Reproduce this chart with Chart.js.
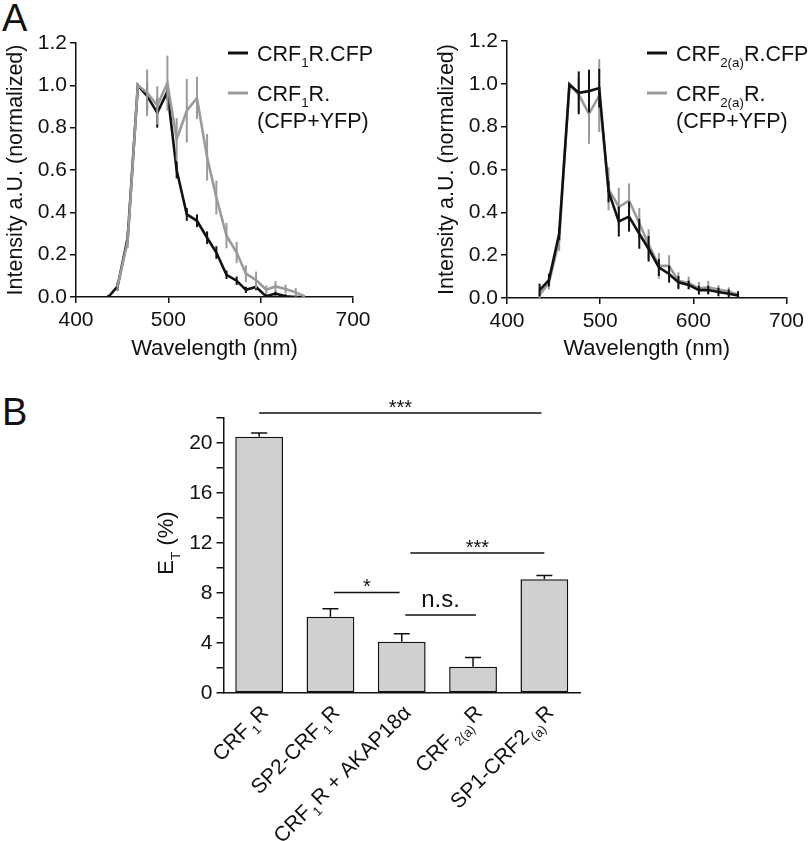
<!DOCTYPE html>
<html>
<head>
<meta charset="utf-8">
<script src="https://cdn.jsdelivr.net/npm/chart.js@4.4.0/dist/chart.umd.min.js"></script>
<style>
  body { margin: 0; background: #fff; }
  #page { position: relative; width: 809px; height: 841px; overflow: hidden; background: #fff;
          font-family: 'Liberation Sans', Arial, sans-serif; color: #111; }
  canvas { position: absolute; }
  .panel { position: absolute; font-size: 38px; line-height: 38px; }
</style>
</head>
<body>
<div id="page">
  <div class="panel" style="left:2px;top:-1px">A</div>
  <div class="panel" style="left:2px;top:393px">B</div>
  <canvas id="specL" width="400" height="365" style="left:0;top:0"></canvas>
  <canvas id="specR" width="378" height="365" style="left:431px;top:0"></canvas>
  <canvas id="fret" width="460" height="461" style="left:140px;top:380px"></canvas>
</div>
<script>
// emission channels (nm)
const wavelengths = [435, 445, 456, 467, 477, 488, 499, 509, 520, 531, 542, 552, 563, 574, 584, 595, 606, 616, 627, 638, 648];

// CRF1R spectra (normalized) and error
const crf1Cfp     = [0.0, 0.05, 0.28, 1.0, 0.95, 0.87, 0.97, 0.60, 0.39, 0.36, 0.28, 0.21, 0.105, 0.077, 0.034, 0.047, 0.003, 0.016, 0.003, 0.0, 0.0];
const crf1CfpErr  = [0.01, 0.02, 0.03, 0.0, 0.07, 0.07, 0.04, 0.04, 0.03, 0.03, 0.03, 0.03, 0.02, 0.02, 0.015, 0.015, 0.01, 0.01, 0.01, 0.01, 0.0];
const crf1Both    = [null, 0.05, 0.265, 1.0, 0.965, 0.905, 1.01, 0.745, 0.88, 0.94, 0.66, 0.47, 0.29, 0.21, 0.11, 0.08, 0.034, 0.05, 0.038, 0.022, 0.003];
const crf1BothErr = [0, 0.02, 0.035, 0.0, 0.11, 0.09, 0.13, 0.1, 0.15, 0.1, 0.11, 0.08, 0.06, 0.05, 0.04, 0.04, 0.02, 0.025, 0.02, 0.02, 0.0];

// CRF2(a)R spectra (normalized) and error
const crf2Cfp     = [0.037, 0.084, 0.30, 0.996, 0.958, 0.966, 0.98, 0.497, 0.357, 0.38, 0.30, 0.23, 0.143, 0.112, 0.073, 0.061, 0.037, 0.037, 0.028, 0.02, 0.012];
const crf2CfpErr  = [0.03, 0.03, 0.03, 0.0, 0.1, 0.1, 0.09, 0.05, 0.07, 0.07, 0.07, 0.06, 0.04, 0.04, 0.03, 0.02, 0.02, 0.02, 0.02, 0.02, 0.02];
const crf2Both    = [0.015, 0.07, 0.27, 1.0, 0.95, 0.86, 0.945, 0.51, 0.425, 0.455, 0.35, 0.25, 0.15, 0.15, 0.08, 0.07, 0.045, 0.05, 0.04, 0.03, 0.015];
const crf2BothErr = [0.02, 0.03, 0.05, 0.0, 0.08, 0.14, 0.17, 0.1, 0.09, 0.08, 0.07, 0.07, 0.06, 0.05, 0.04, 0.03, 0.03, 0.03, 0.02, 0.02, 0.01];

// panel B: FRET efficiency
const constructs = ['CRF_{1}R', 'SP2-CRF_{1}R', 'CRF_{1}R + AKAP18\u03b1', 'CRF_{2(a)}R', 'SP1-CRF2_{(a)}R'];
const etMean = [20.5, 6.1, 4.1, 2.1, 9.1];
const etSem  = [0.3, 0.65, 0.65, 0.75, 0.3];

// significance brackets (category index range, height in %)
const sigFrom  = [0.0, 1.05, 2.05, 2.12];
const sigTo    = [3.96, 1.97, 3.04, 4.0];
const sigLevel = [22.4, 8.05, 6.25, 11.2];
const sigLabel = ['***', '*', 'n.s.', '***'];

const FONT = "'Liberation Sans', Arial, Helvetica, sans-serif";
const INK = '#111';
const GREY = '#9a9a9a';
Chart.defaults.font.family = FONT;
Chart.defaults.color = INK;

// 'CRF_{1}R' -> text pieces, subscripts marked
function parseRich(str) {
  const parts = [];
  const re = /_\{([^}]*)\}/g;
  let last = 0, m;
  while ((m = re.exec(str))) {
    if (m.index > last) parts.push({ t: str.slice(last, m.index), sub: false });
    parts.push({ t: m[1], sub: true });
    last = re.lastIndex;
  }
  if (last < str.length) parts.push({ t: str.slice(last), sub: false });
  return parts;
}

// y = middle of capital letters
function richText(ctx, str, x, y, size, align, subGap) {
  const parts = parseRich(str);
  const subSize = size * 0.62;
  const gap = subGap || 0;
  let w = 0;
  parts.forEach(p => {
    ctx.font = (p.sub ? subSize : size) + 'px ' + FONT;
    p.w = ctx.measureText(p.t).width + (p.sub ? 2 * gap : 0);
    w += p.w;
  });
  let cx = align === 'right' ? x - w : align === 'center' ? x - w / 2 : x;
  const base = y + size * 0.36;
  ctx.textAlign = 'left';
  ctx.textBaseline = 'alphabetic';
  parts.forEach(p => {
    ctx.font = (p.sub ? subSize : size) + 'px ' + FONT;
    ctx.fillText(p.t, cx + (p.sub ? gap : 0), p.sub ? base + size * 0.3 : base);
    cx += p.w;
  });
}

const errBars = {
  id: 'errBars',
  afterDatasetDraw(chart, args) {
    const ds = chart.data.datasets[args.index];
    if (!ds.errors) return;
    const { ctx, scales: { x, y } } = chart;
    ctx.save();
    ctx.strokeStyle = ds.borderColor;
    ctx.lineWidth = 2;
    ds.data.forEach((pt, i) => {
      const e = ds.errors[i];
      if (pt.y == null || !e) return;
      const px = x.getPixelForValue(pt.x);
      ctx.beginPath();
      ctx.moveTo(px, y.getPixelForValue(Math.max(pt.y - e, 0)));
      ctx.lineTo(px, y.getPixelForValue(pt.y + e));
      ctx.stroke();
    });
    ctx.restore();
  }
};

const specLegend = {
  id: 'specLegend',
  afterDraw(chart, args, opts) {
    const ctx = chart.ctx;
    ctx.save();
    ctx.fillStyle = INK;
    opts.rows.forEach(r => {
      if (r.color) {
        ctx.strokeStyle = r.color;
        ctx.lineWidth = 3;
        ctx.beginPath();
        ctx.moveTo(opts.x, r.y);
        ctx.lineTo(opts.x + 20, r.y);
        ctx.stroke();
      }
      richText(ctx, r.text, opts.x + 29, r.y, 21.5, 'left');
    });
    ctx.restore();
  }
};

function specChart(id, series, pad, xHeight, legendX, legendRows) {
  const axis = {
    grid: { drawOnChartArea: false, tickLength: 6, color: INK, lineWidth: 1.5 },
    border: { color: INK, width: 1.5 }
  };
  return new Chart(document.getElementById(id), {
    type: 'line',
    data: {
      datasets: series.map(s => ({
        label: s.label,
        data: wavelengths.map((w, i) => ({ x: w, y: s.values[i] })),
        errors: s.err,
        borderColor: s.color,
        borderWidth: 2.6,
        pointRadius: 0,
        tension: 0,
        order: s.order
      }))
    },
    options: {
      responsive: false,
      animation: false,
      layout: { padding: pad },
      plugins: {
        legend: { display: false },
        tooltip: { enabled: false },
        specLegend: { x: legendX, rows: legendRows }
      },
      scales: {
        x: {
          type: 'linear', min: 400, max: 700,
          ticks: { stepSize: 100, font: { size: 21 }, padding: 5 },
          title: { display: true, text: 'Wavelength (nm)', font: { size: 22 }, padding: { top: 4, bottom: 3 } },
          afterFit: s => { s.height = xHeight; },
          ...axis
        },
        y: {
          min: 0, max: 1.2,
          ticks: { stepSize: 0.2, font: { size: 21 }, padding: 3, callback: v => v.toFixed(1) },
          title: { display: true, text: 'Intensity a.U. (normalized)', font: { size: 21.5 }, padding: { top: 3, bottom: 4 } },
          afterFit: s => { s.width = 76; },
          ...axis
        }
      }
    },
    plugins: [errBars, specLegend]
  });
}

specChart('specL', [
  { label: 'CRF1R.CFP', values: crf1Cfp, err: crf1CfpErr, color: INK, order: 1 },
  { label: 'CRF1R.(CFP+YFP)', values: crf1Both, err: crf1BothErr, color: GREY, order: 0 }
], { top: 43, right: 47, left: 0, bottom: 0 }, 68, 228, [
  { y: 53, text: 'CRF_{1}R.CFP', color: INK },
  { y: 93, text: 'CRF_{1}R.', color: GREY },
  { y: 120, text: '(CFP+YFP)' }
]);

specChart('specR', [
  { label: 'CRF2(a)R.CFP', values: crf2Cfp, err: crf2CfpErr, color: INK, order: 0 },
  { label: 'CRF2(a)R.(CFP+YFP)', values: crf2Both, err: crf2BothErr, color: GREY, order: 1 }
], { top: 41, right: 21, left: 0, bottom: 0 }, 67, 216, [
  { y: 53, text: 'CRF_{2(a)}R.CFP', color: INK },
  { y: 93, text: 'CRF_{2(a)}R.', color: GREY },
  { y: 120, text: '(CFP+YFP)' }
]);

const barDecor = {
  id: 'barDecor',
  afterDatasetsDraw(chart) {
    const { ctx, scales: { x, y } } = chart;
    ctx.save();
    ctx.strokeStyle = INK;
    ctx.fillStyle = INK;
    ctx.lineWidth = 1.5;
    // SEM (upper only)
    etMean.forEach((v, i) => {
      const px = x.getPixelForValue(i);
      const top = y.getPixelForValue(v + etSem[i]);
      ctx.beginPath();
      ctx.moveTo(px, y.getPixelForValue(v));
      ctx.lineTo(px, top);
      ctx.moveTo(px - 8, top);
      ctx.lineTo(px + 8, top);
      ctx.stroke();
    });
    // significance
    sigLevel.forEach((lv, i) => {
      const x0 = x.getPixelForValue(sigFrom[i]);
      const x1 = x.getPixelForValue(sigTo[i]);
      const py = y.getPixelForValue(lv);
      ctx.beginPath();
      ctx.moveTo(x0, py);
      ctx.lineTo(x1, py);
      ctx.stroke();
      ctx.textAlign = 'center';
      ctx.textBaseline = 'alphabetic';
      if (sigLabel[i] === 'n.s.') {
        ctx.font = '24px ' + FONT;
        ctx.fillText(sigLabel[i], (x0 + x1) / 2, py - 8);
      } else {
        ctx.font = '20px ' + FONT;
        ctx.fillText(sigLabel[i], (x0 + x1) / 2, py + 1);
      }
    });
    // category labels, rotated
    constructs.forEach((c, i) => {
      ctx.save();
      ctx.translate(x.getPixelForValue(i) + 5, y.bottom + 15.5);
      ctx.rotate(-Math.PI / 4);
      richText(ctx, c, 0, 0, 21, 'right', 1.5);
      ctx.restore();
    });
    // y title
    ctx.save();
    ctx.translate(25, 163);
    ctx.rotate(-Math.PI / 2);
    richText(ctx, 'E_{T} (%)', 0, 0, 22, 'center');
    ctx.restore();
    ctx.restore();
  }
};

new Chart(document.getElementById('fret'), {
  type: 'bar',
  data: {
    labels: constructs,
    datasets: [{
      data: etMean,
      backgroundColor: '#d0d0d0',
      borderColor: INK,
      borderWidth: 1.5,
      borderSkipped: false,
      barPercentage: 0.67,
      categoryPercentage: 1
    }]
  },
  options: {
    responsive: false,
    animation: false,
    layout: { padding: { top: 38, right: 20, left: 0, bottom: 0 } },
    plugins: { legend: { display: false }, tooltip: { enabled: false } },
    scales: {
      x: {
        ticks: { display: false },
        grid: { display: false },
        border: { color: INK, width: 1.5 },
        afterFit: s => { s.height = 148; }
      },
      y: {
        min: 0, max: 22,
        ticks: { stepSize: 2, autoSkip: false, font: { size: 21 }, padding: 4,
                 callback: v => (v % 4 === 0 ? v : '') },
        grid: { drawOnChartArea: false, tickLength: 7, color: INK, lineWidth: 1.5 },
        border: { color: INK, width: 1.5 },
        afterFit: s => { s.width = 83.5; }
      }
    }
  },
  plugins: [barDecor]
});
</script>
</body>
</html>
